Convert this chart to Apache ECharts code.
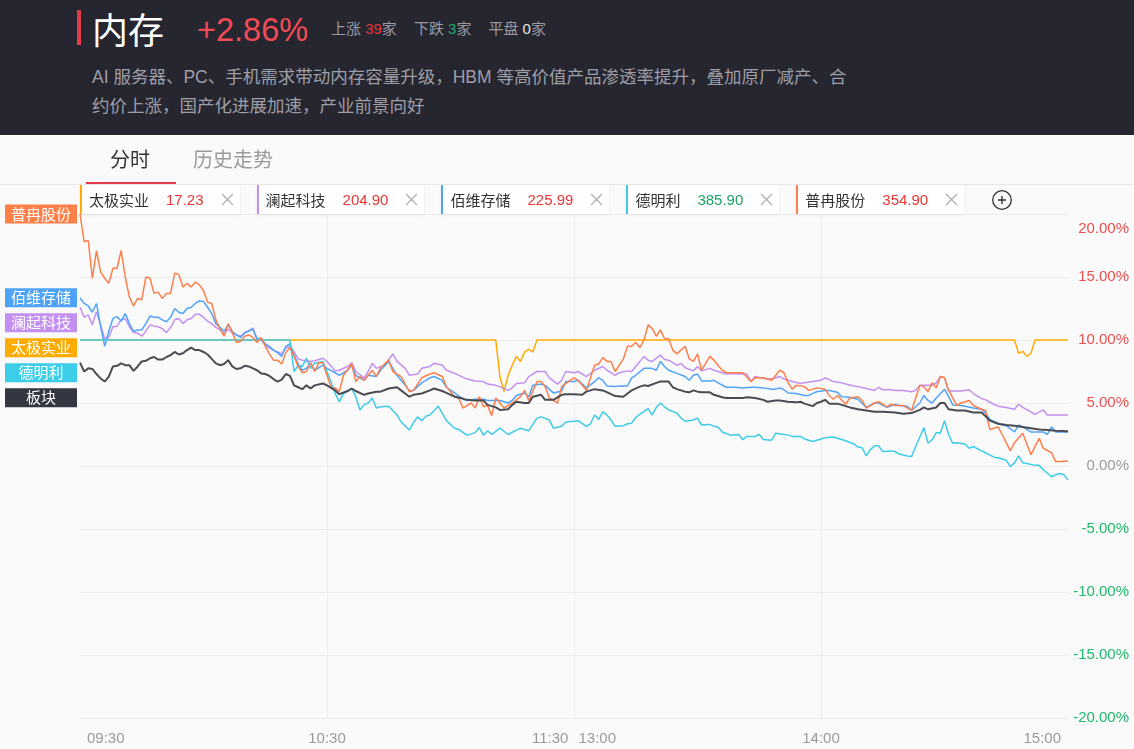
<!DOCTYPE html>
<html><head><meta charset="utf-8">
<script src="https://cdn.jsdelivr.net/npm/echarts@6/dist/echarts.min.js"></script>
<style>
html,body{margin:0;padding:0;width:1134px;height:749px;overflow:hidden;background:#fafafa;font-family:"Liberation Sans","Noto Sans CJK SC",sans-serif;}
#chart{position:absolute;left:0;top:0;width:1134px;height:749px;}
.abs{position:absolute;white-space:nowrap;}
#header{position:absolute;left:0;top:0;width:1134px;height:135px;background:#262630;}
#legend{position:absolute;left:80px;top:185px;height:29px;display:flex;gap:17px;}
.item{height:29px;background:#fff;box-shadow:0 1px 3px rgba(0,0,0,0.07);border-left:2px solid #999;display:flex;align-items:center;font-size:15px;box-sizing:border-box;padding:0 6px 0 7px;}
.item .nm{color:#333;font-family:"Noto Sans CJK SC",sans-serif;}
.item .pv{margin-left:17px;font-family:"Liberation Sans",sans-serif;}
.item svg{margin-left:17px;}
</style></head><body>
<div id="chart"></div>
<div id="header">
  <div class="abs" style="left:77px;top:10px;width:4px;height:35px;background:#e8394a;"></div>
  <div class="abs" style="left:92px;top:8px;font-size:36px;line-height:40px;color:#fff;font-family:'Noto Sans CJK SC';">内存</div>
  <div class="abs" style="left:197px;top:10px;font-size:32.5px;line-height:40px;color:#f04b55;font-family:'Liberation Sans';">+2.86%</div>
  <div class="abs" style="left:331px;top:19px;font-size:15px;line-height:20px;color:#9a9aa3;">上涨 <span style="color:#e8353a">39</span>家<span style="display:inline-block;width:17px"></span>下跌 <span style="color:#1ea86a">3</span>家<span style="display:inline-block;width:17px"></span>平盘 <span style="color:#e6e6e6">0</span>家</div>
  <div class="abs" style="left:92px;top:63px;font-size:17.5px;line-height:29px;color:#9e9ea6;white-space:normal;width:800px;">AI 服务器、PC、手机需求带动内存容量升级，HBM 等高价值产品渗透率提升，叠加原厂减产、合<br>约价上涨，国产化进展加速，产业前景向好</div>
</div>
<div class="abs" style="left:0;top:184px;width:1134px;height:1px;background:#e8e8e8;"></div>
<div class="abs" style="left:110px;top:147px;font-size:20px;line-height:24px;color:#333;font-family:'Noto Sans CJK SC';">分时</div>
<div class="abs" style="left:193px;top:147px;font-size:20px;line-height:24px;color:#9a9a9a;font-family:'Noto Sans CJK SC';">历史走势</div>
<div class="abs" style="left:86px;top:182px;width:90px;height:2px;background:#e8394a;"></div>
<div id="legend"></div>
<div class="abs" style="left:991px;top:189px;width:22px;height:22px;">
<svg width="22" height="22"><circle cx="11" cy="11" r="9.3" fill="none" stroke="#333" stroke-width="1.3"/><path d="M11 7V15M7 11H15" stroke="#333" stroke-width="1.4"/></svg></div>
<script>
// ---- data (minute index from 09:30, 0..240 ; value in %) ----
const stockNames = ['太极实业','澜起科技','佰维存储','德明利','普冉股份'];
const stockPrices = ['17.23','204.90','225.99','385.90','354.90'];
const priceUp = [true,true,true,false,true];
const yTicks = [-20,-15,-10,-5,0,5,10,15,20];
const xTickLabels = {0:'09:30',60:'10:30',120:['11:30','13:00'],180:'14:00',240:'15:00'};

const tj = [[0,10],[101,10],[102,7.1],[103,5.9],[104,7.2],[105,8.0],[106,8.7],[107,8.3],[108,9.05],[109,9.25],[110,9.05],[111,10],[227,10],[228,8.95],[229,9.1],[230,8.7],[231,8.95],[232,10],[240,10]];

const lq = [[0,12.6],[1,11.8],[2,12.0],[3,11.2],[4,12.25],[5,11.2],[6,10.1],[7,10.2],[8,11.05],[9,11.1],[10,11.6],[11,11.7],[12,11.05],[13,10.6],[14,10.55],[15,10.3],[16,10.7],[17,11.2],[18,11.1],[19,11.05],[20,10.9],[21,10.6],[22,11.0],[23,11.6],[24,11.7],[25,11.3],[26,11.6],[27,11.7],[28,12.05],[29,12.05],[30,11.8],[31,11.5],[32,11.3],[33,11.0],[34,10.8],[35,10.5],[36,10.85],[37,10.55],[38,10.4],[39,10.3],[40,10.55],[41,10.75],[42,10.95],[43,10.05],[44,10.0],[45,9.6],[46,9.35],[47,9.2],[48,9.05],[49,8.9],[50,9.35],[51,9.5],[52,9.05],[53,8.5],[54,8.4],[56,8.3],[57,8.35],[59,8.55],[60,8.3],[62,7.55],[63,7.6],[65,7.9],[66,8.2],[67,7.5],[69,7.0],[70,7.5],[71,8.15],[72,7.75],[74,8.0],[75,8.45],[76,8.9],[77,8.3],[79,7.75],[80,7.2],[82,7.3],[83,7.75],[85,7.9],[86,8.15],[88,8.0],[89,7.6],[91,7.35],[93,7.05],[94,6.9],[96,6.75],[98,6.7],[99,6.5],[101,6.4],[102,6.3],[104,6.0],[105,6.2],[106,6.55],[108,6.6],[109,7.1],[111,7.5],[113,7.5],[114,7.0],[116,6.5],[117,6.8],[118,7.5],[120,7.4],[121,7.5],[123,7.1],[125,7.6],[127,7.9],[128,7.6],[130,7.2],[131,7.4],[133,7.55],[134,7.5],[135,7.9],[137,8.7],[138,8.4],[139,8.3],[141,8.8],[142,8.45],[143,8.4],[145,8.0],[146,8.15],[147,7.8],[149,7.55],[150,7.9],[151,7.55],[153,7.75],[154,7.6],[155,7.5],[157,7.3],[159,7.35],[160,7.3],[162,7.3],[163,6.7],[164,7.1],[166,6.95],[168,6.9],[170,7.1],[171,6.9],[173,6.7],[175,6.55],[176,6.6],[178,6.7],[180,6.8],[181,7.0],[183,6.7],[185,6.6],[186,6.5],[188,6.35],[189,6.3],[191,6.15],[193,6.0],[194,6.25],[195,6.05],[197,6.05],[198,6.0],[200,6.0],[202,5.9],[203,6.0],[204,6.4],[206,6.4],[207,6.4],[208,6.6],[209,7.1],[210,7.0],[211,5.95],[213,5.95],[214,5.95],[216,6.05],[217,5.75],[219,5.35],[220,5.25],[222,4.9],[223,4.75],[225,4.65],[227,4.5],[228,4.9],[229,4.65],[231,4.3],[232,4.1],[234,4.45],[235,4.05],[236,4.05],[238,4.05],[240,4.05]];

const bw = [[0,13.35],[1,12.9],[2,12.7],[3,12.2],[4,12.9],[5,11.1],[6,9.5],[7,10.7],[8,11.7],[9,11.85],[10,11.5],[11,12.1],[12,11.3],[13,10.7],[14,10.8],[15,10.8],[16,11.3],[17,11.9],[18,11.8],[19,11.8],[20,11.6],[21,11.45],[22,11.8],[23,12.5],[24,12.2],[25,12.1],[26,12.5],[27,12.6],[28,12.9],[29,13.1],[30,13.05],[31,12.6],[32,12.1],[33,11.3],[34,11.0],[35,10.7],[36,11.2],[37,10.7],[38,10.4],[39,10.2],[40,10.6],[41,10.7],[42,10.85],[43,10.1],[44,10.1],[45,9.7],[46,9.5],[47,9.2],[48,9.0],[49,8.7],[50,9.5],[51,9.7],[52,8.8],[53,8.1],[54,7.6],[55,7.75],[56,8.1],[57,7.6],[59,8.0],[60,7.75],[62,7.4],[63,7.2],[65,7.6],[66,8.0],[67,7.2],[69,6.8],[70,7.2],[72,7.1],[73,7.6],[75,8.3],[77,7.2],[78,6.8],[80,6.0],[81,6.0],[83,6.6],[85,7.0],[86,7.1],[88,6.8],[89,6.25],[91,5.8],[93,5.3],[94,5.2],[96,5.3],[98,5.3],[99,5.2],[101,5.2],[102,5.2],[104,5.0],[105,5.2],[106,5.6],[108,5.8],[109,5.5],[110,6.4],[112,6.5],[113,6.4],[115,5.8],[117,5.95],[118,6.7],[120,6.7],[121,6.8],[123,6.2],[125,6.7],[126,7.0],[127,6.8],[128,6.35],[130,6.3],[131,6.35],[133,6.35],[134,7.0],[135,7.2],[137,7.75],[138,7.75],[139,7.75],[140,7.6],[141,8.3],[142,7.9],[143,7.6],[145,7.35],[147,7.1],[148,6.8],[149,7.2],[150,7.3],[151,6.75],[153,6.75],[154,6.8],[155,6.6],[157,6.25],[159,6.25],[161,6.2],[163,6.25],[164,6.25],[166,6.2],[168,6.1],[169,6.1],[170,6.2],[171,6.05],[172,5.8],[174,5.75],[176,5.6],[177,5.6],[179,5.9],[181,6.0],[182,6.0],[184,5.85],[185,5.5],[187,5.45],[189,5.3],[191,4.65],[193,5.0],[194,5.0],[196,4.65],[198,4.9],[199,4.8],[201,4.75],[202,4.4],[204,5.0],[205,5.6],[206,5.2],[207,5.0],[208,5.4],[210,6.1],[211,5.5],[212,4.85],[214,4.8],[215,4.75],[217,4.6],[219,4.5],[220,4.2],[221,3.7],[223,3.4],[224,3.25],[225,3.2],[227,2.7],[228,3.25],[229,3.1],[231,2.7],[232,2.7],[234,2.7],[235,2.5],[236,3.1],[237,2.7],[238,2.7],[240,2.7]];

const dml = [[0,10],[51,10],[52,7.5],[53,8.0],[54,7.9],[55,8.55],[56,7.75],[57,8.15],[59,8.3],[60,7.5],[62,5.75],[63,5.1],[64,5.75],[66,6.15],[67,5.5],[68,4.45],[69,4.85],[70,5.0],[71,5.4],[72,4.6],[73,4.7],[75,4.75],[77,4.05],[78,3.5],[80,2.85],[81,3.45],[82,3.9],[83,3.6],[84,3.95],[85,4.05],[87,4.75],[88,4.2],[89,3.6],[91,3.0],[92,2.9],[94,2.45],[96,2.65],[97,3.05],[98,2.45],[99,2.8],[100,2.5],[102,3.0],[104,2.5],[106,2.85],[107,3.0],[109,2.8],[111,3.8],[112,3.9],[114,3.65],[115,3.0],[117,3.15],[118,3.5],[120,3.55],[121,3.6],[123,3.15],[124,3.35],[125,4.05],[126,3.7],[127,4.3],[128,4.05],[129,3.65],[130,3.15],[132,3.2],[133,3.35],[134,3.4],[135,3.85],[136,4.1],[138,4.55],[139,4.05],[140,4.65],[141,5.0],[142,4.7],[143,4.45],[145,4.2],[146,3.8],[147,3.55],[149,3.65],[150,3.8],[151,3.25],[153,3.3],[154,3.15],[155,3.1],[156,2.7],[158,2.45],[160,2.5],[161,2.1],[162,2.35],[164,2.35],[165,2.5],[166,2.1],[168,2.05],[169,2.6],[171,2.5],[172,2.45],[173,2.35],[175,2.35],[176,2.15],[178,1.95],[180,2.15],[181,2.25],[183,2.3],[185,2.1],[186,2.0],[188,1.75],[189,1.5],[190,1.45],[191,0.8],[192,1.3],[193,1.6],[194,1.6],[195,1.15],[197,1.2],[198,1.15],[199,0.95],[201,0.8],[202,0.75],[203,1.55],[205,3.05],[206,1.8],[207,2.1],[208,2.65],[209,2.6],[210,3.6],[211,2.5],[212,1.8],[213,1.85],[215,1.75],[216,1.4],[217,1.55],[219,1.2],[220,1.05],[222,0.7],[223,0.65],[225,0.45],[226,-0.05],[227,0.25],[228,0.8],[229,0.25],[230,0.2],[232,0.05],[233,0.05],[234,-0.3],[236,-0.85],[237,-0.7],[238,-0.6],[239,-0.7],[240,-1.1]];

const pr = [[0,20.0],[1,17.8],[2,17.9],[3,14.9],[4,17.1],[5,15.4],[6,14.9],[7,14.5],[8,15.7],[9,15.7],[10,17.1],[11,15.0],[12,13.4],[13,12.7],[14,13.3],[15,13.2],[16,15.0],[17,14.9],[18,13.7],[19,13.8],[20,13.3],[21,13.7],[22,13.7],[23,15.3],[24,15.2],[25,14.2],[26,14.5],[27,14.2],[28,14.6],[29,14.4],[30,13.9],[31,13.0],[32,12.9],[33,11.6],[34,10.9],[35,10.3],[36,11.3],[37,10.6],[38,9.8],[39,9.9],[40,10.3],[41,10.4],[42,10.2],[43,9.8],[44,10.2],[45,9.5],[46,8.9],[47,8.4],[48,8.4],[49,8.1],[50,9.0],[51,9.4],[52,8.7],[53,7.9],[54,7.4],[55,7.5],[56,8.2],[57,7.5],[58,8.2],[59,8.2],[61,6.2],[62,6.2],[63,5.9],[64,7.2],[66,8.1],[67,6.7],[68,7.1],[69,6.8],[71,7.6],[72,7.1],[73,7.8],[75,8.4],[76,7.5],[78,7.1],[80,5.9],[81,6.0],[83,7.0],[85,7.3],[86,7.4],[88,7.1],[89,6.3],[91,5.5],[92,5.4],[93,4.6],[95,5.0],[96,4.6],[97,5.5],[98,4.7],[99,4.8],[100,4.0],[101,5.4],[102,5.0],[103,4.6],[105,5.0],[107,5.5],[108,6.0],[109,5.2],[111,6.7],[112,6.7],[113,6.3],[114,5.4],[116,5.0],[117,6.3],[119,6.8],[120,7.0],[121,6.8],[123,6.0],[125,8.0],[126,8.1],[127,8.6],[128,8.3],[129,8.3],[130,7.5],[132,8.5],[133,9.5],[134,9.5],[135,9.8],[136,9.4],[137,10.0],[138,11.2],[139,10.9],[140,10.3],[141,10.8],[142,10.1],[143,10.1],[144,9.2],[145,8.9],[147,9.5],[148,8.5],[149,8.3],[150,8.9],[151,7.6],[153,8.7],[154,8.4],[156,7.6],[157,7.4],[159,7.4],[161,7.4],[163,6.7],[164,7.0],[166,7.0],[168,6.8],[169,7.2],[170,7.6],[171,7.4],[172,6.6],[173,6.1],[174,6.4],[176,6.3],[177,6.0],[179,6.2],[181,6.1],[182,5.6],[183,5.3],[184,5.6],[186,4.9],[187,5.4],[189,5.5],[190,5.2],[191,4.6],[193,5.0],[194,5.1],[196,4.7],[197,4.9],[198,4.8],[200,4.8],[202,4.4],[203,5.4],[204,6.4],[205,6.3],[206,5.9],[207,6.6],[208,6.2],[209,7.1],[210,7.0],[211,6.0],[212,5.4],[213,4.8],[214,5.0],[216,5.2],[217,4.8],[219,4.5],[220,4.4],[221,2.9],[222,3.0],[223,3.1],[224,2.5],[226,1.2],[227,1.85],[229,2.6],[231,0.9],[233,2.2],[234,1.4],[236,1.05],[237,0.35],[238,0.35],[240,0.4]];

const bk = [[0,8.2],[1,7.5],[2,7.75],[3,7.7],[4,7.3],[5,6.95],[6,6.7],[7,7.1],[8,7.9],[9,7.95],[10,8.15],[11,8.0],[12,8.0],[13,7.55],[14,7.9],[15,8.3],[16,8.35],[17,8.55],[18,8.65],[19,8.45],[20,8.45],[21,8.65],[22,8.8],[23,9.05],[24,8.85],[25,8.95],[26,9.2],[27,9.4],[28,9.2],[29,9.2],[30,9.05],[31,8.85],[32,8.5],[33,8.15],[34,8.0],[35,8.1],[36,8.4],[37,7.9],[38,7.7],[39,7.75],[40,7.95],[41,7.9],[42,7.75],[43,7.6],[44,7.35],[45,7.3],[46,7.15],[47,6.9],[48,6.7],[49,6.85],[50,7.3],[51,7.15],[52,6.4],[53,6.25],[54,6.1],[55,6.4],[56,6.15],[57,6.4],[59,6.55],[60,6.4],[62,6.0],[63,5.7],[65,5.95],[66,6.15],[67,5.95],[69,5.65],[70,5.75],[72,5.9],[73,5.9],[75,6.15],[77,6.25],[78,6.0],[80,5.5],[81,5.65],[83,5.75],[85,6.0],[86,6.15],[88,5.95],[89,5.8],[91,5.5],[93,5.35],[94,5.25],[96,5.2],[98,5.2],[99,4.85],[101,4.65],[102,4.45],[104,4.5],[105,4.85],[106,5.1],[108,5.0],[109,5.0],[110,5.5],[112,5.65],[113,5.25],[115,5.25],[117,5.65],[118,5.7],[120,5.7],[122,5.65],[123,5.9],[125,6.1],[127,6.0],[129,5.7],[130,5.55],[132,5.5],[133,5.75],[134,6.0],[136,6.3],[137,6.4],[138,6.35],[140,6.6],[141,6.7],[142,6.7],[143,6.7],[144,6.25],[145,6.1],[147,5.9],[148,5.85],[149,6.0],[150,5.9],[151,5.85],[153,5.85],[154,5.65],[156,5.45],[157,5.4],[159,5.4],[161,5.4],[162,5.45],[164,5.4],[166,5.25],[167,5.1],[169,5.2],[170,5.2],[172,5.1],[174,5.05],[175,5.1],[176,4.95],[178,4.75],[179,5.0],[180,5.1],[181,5.25],[182,4.95],[184,4.95],[186,4.75],[187,4.65],[189,4.5],[191,4.4],[193,4.3],[195,4.3],[198,4.25],[200,4.15],[202,4.2],[204,4.45],[205,4.65],[206,4.5],[208,4.65],[209,5.0],[210,5.0],[211,4.5],[213,4.4],[215,4.4],[217,4.25],[219,4.25],[220,3.95],[221,3.6],[223,3.35],[225,3.25],[227,3.2],[229,3.1],[231,3.0],[233,2.9],[235,2.85],[237,2.8],[240,2.75]];

// ---- styling ----
const lineColors = ['#ffab00','#c390f0','#4fa3fa','#3ecbe8','#ff7f4c','#4b4b53'];
const labelColors = ['#ffab00','#c38ff0','#4fa3f7','#3ccde9','#fe7f47','#333742'];
const seriesData = [tj, lq, bw, dml, pr, bk];
const seriesNames = stockNames.concat(['板块']);

// legend (HTML)
const lg = document.getElementById('legend');
stockNames.forEach((n,i)=>{
  const d = document.createElement('div');
  d.className='item';
  d.style.borderLeftColor = lineColors[i];
  d.innerHTML = '<span class="nm">'+n+'</span><span class="pv" style="color:'+(priceUp[i]?'#ec3534':'#1aa564')+'">'+stockPrices[i]+'</span>'+
    '<svg width="13" height="13"><path d="M1 1L12 12M12 1L1 12" stroke="#b0b0b0" stroke-width="1.3"/></svg>';
  lg.appendChild(d);
});

const chart = echarts.init(document.getElementById('chart'));
const lblFont = {fontSize:15, fontFamily:'Liberation Sans'};
function yFmt(v){
  const s = v.toFixed(2)+'%';
  if (v === yTicks[yTicks.length-1]) return '{t|'+s+'}';
  if (v > 0) return '{p|'+s+'}';
  if (v < 0) return '{n|'+s+'}';
  return '{z|'+s+'}';
}
function xFmt(v){
  const l = xTickLabels[v];
  if (l === undefined) return '';
  if (Array.isArray(l)) return '{a|'+l[0]+'}{b|'+l[1]+'}';
  if (v === 0) return '{l|'+l+'}';
  if (v === 240) return '{r|'+l+'}';
  return '{c|'+l+'}';
}
const xc = Object.assign({color:'#9a9a9a'}, lblFont);
chart.setOption({
  animation:false,
  grid:{left:80,right:66,top:214,bottom:31},
  xAxis:{type:'value',min:0,max:240,interval:60,
    axisLine:{show:false},axisTick:{show:false},
    splitLine:{show:true,showMinLine:false,showMaxLine:false,lineStyle:{color:'#ececec',width:1}},
    axisLabel:{margin:13,formatter:xFmt,alignMinLabel:'left',alignMaxLabel:'right',
      rich:{l:Object.assign({padding:[0,0,0,7]},xc),r:Object.assign({padding:[0,7,0,0]},xc),
            c:xc,a:Object.assign({padding:[0,10,0,0]},xc),b:xc}}},
  yAxis:{type:'value',position:'right',min:-20,max:20,interval:5,
    axisLine:{show:false},axisTick:{show:false},
    splitLine:{lineStyle:{color:'#ececec',width:1}},
    axisLabel:{margin:61,align:'right',formatter:yFmt,
      rich:{t:Object.assign({color:'#f04f4f',padding:[29,0,0,0]},lblFont),
            p:Object.assign({color:'#f04f4f'},lblFont),
            n:Object.assign({color:'#1fba6c'},lblFont),
            z:Object.assign({color:'#9a9a9a'},lblFont)}}},
  series: seriesData.map((d,i)=>({
    name:seriesNames[i], type:'line', data:d, showSymbol:false, symbol:'none',
    lineStyle:{color:lineColors[i], width: i===5 ? 2 : 1.5},
    itemStyle:{color:lineColors[i]}, z: 2+i, silent:true
  }))
});

// left start-value tags, placed at each series' first value and pushed apart
const tags = seriesData.map((d,i)=>({i, v:d[0][1], y:chart.convertToPixel({yAxisIndex:0}, d[0][1])}));
tags.sort((a,b)=> b.v - a.v || a.i - b.i);
let prev = -1e9;
const gr = [];
tags.forEach(t=>{
  const cy = Math.max(t.y, prev + 25);
  prev = cy;
  gr.push({type:'rect', shape:{x:5,y:cy-9.5,width:72,height:19}, style:{fill:labelColors[t.i]}, z:100});
  gr.push({type:'text', x:41, y:cy, z:101, style:{text:seriesNames[t.i], fill:'#fff',
    font:'15px "Noto Sans CJK SC"', textAlign:'center', align:'center', textVerticalAlign:'middle', verticalAlign:'middle'}});
});
chart.setOption({graphic: gr});
</script>
</body></html>
